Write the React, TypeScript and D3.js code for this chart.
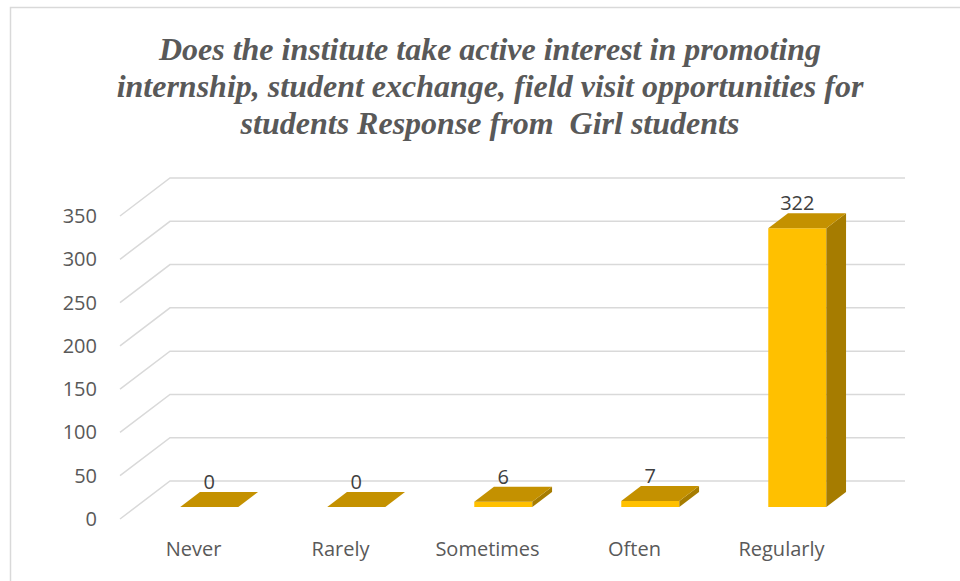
import * as d3 from "d3";

const categories = ["Never", "Rarely", "Sometimes", "Often", "Regularly"];
const values = [0, 0, 6, 7, 322];
const yTicks = [0, 50, 100, 150, 200, 250, 300, 350];
const titleLines = [
  "Does the institute take active interest in promoting",
  "internship, student exchange, field visit opportunities for",
  "students Response from  Girl students",
];

const W = 960;
const H = 581;

// back wall extents
const x0 = 170;
const x1 = 905;
const yBottom = 481;
const yTop = 178;
// floor depth offset (from back wall to front edge)
const depthDX = -50;
const depthDY = 38;
// bar front / back depth, as fraction of the floor depth from the back
const frontK = 0.684;
const backK = 0.29;

const FRONT = "#FFC000";
const TOP = "#C49100";
const SIDE = "#A67C00";
const GRID = "#D9D9D9";
const TEXT = "#595959";
const SANS = "'Open Sans', sans-serif";

export default function App() {
  const x = d3
    .scaleBand<string>()
    .domain(categories)
    .range([x0, x1])
    .paddingInner(0.605)
    .paddingOuter(0.3025);
  const y = d3.scaleLinear().domain([0, 350]).range([yBottom, yTop]);

  const pt = (px: number, py: number, k: number) =>
    `${px + depthDX * k},${py + depthDY * k}`;

  return (
    <svg
      width={W}
      height={H}
      style={{ position: "absolute", left: 0, top: 0, background: "#fff" }}
    >
      <rect x={10.5} y={7.5} width={980} height={600} fill="#fff" stroke={GRID} strokeWidth={1.5} />

      {/* title */}
      <text
        fill={TEXT}
        textAnchor="middle"
        style={{
          fontFamily: '"Liberation Serif", "DejaVu Serif", serif',
          fontWeight: 700,
          fontStyle: "italic",
          fontSize: "32px",
          whiteSpace: "pre",
        }}
      >
        {titleLines.map((t, i) => (
          <tspan key={i} x={490} y={60 + i * 37}>
            {t}
          </tspan>
        ))}
      </text>

      {/* gridlines: back wall + side diagonal */}
      {yTicks.map((t) => (
        <g key={t}>
          <polyline
            points={`${pt(x0, y(t), 1)} ${x0},${y(t)} ${x1},${y(t)}`}
            fill="none"
            stroke={GRID}
            strokeWidth={1.5}
          />
          <text
            x={97}
            y={y(t) + depthDY}
            dy="0.35em"
            textAnchor="end"
            fontFamily={SANS}
            fontSize={20}
            fill={TEXT}
          >
            {t}
          </text>
        </g>
      ))}

      {/* bars */}
      {categories.map((c, i) => {
        const v = values[i];
        const bx = x(c)!;
        const bw = x.bandwidth();
        const yt = y(v);
        const yb = y(0);
        const front = [pt(bx, yt, frontK), pt(bx + bw, yt, frontK), pt(bx + bw, yb, frontK), pt(bx, yb, frontK)].join(" ");
        const side = [pt(bx + bw, yt, frontK), pt(bx + bw, yt, backK), pt(bx + bw, yb, backK), pt(bx + bw, yb, frontK)].join(" ");
        const top = [pt(bx, yt, frontK), pt(bx + bw, yt, frontK), pt(bx + bw, yt, backK), pt(bx, yt, backK)].join(" ");
        return (
          <g key={c}>
            <polygon points={front} fill={FRONT} />
            <polygon points={side} fill={SIDE} />
            <polygon points={top} fill={TOP} />
            <text
              x={bx + bw / 2 + depthDX * frontK}
              y={yt + depthDY * frontK - 18}
              textAnchor="middle"
              fontFamily={SANS}
              fontSize={20}
              fill="#404040"
            >
              {v}
            </text>
            <text
              x={bx + bw / 2 + depthDX}
              y={556}
              textAnchor="middle"
              fontFamily={SANS}
              fontSize={20}
              fill={TEXT}
            >
              {c}
            </text>
          </g>
        );
      })}
    </svg>
  );
}
